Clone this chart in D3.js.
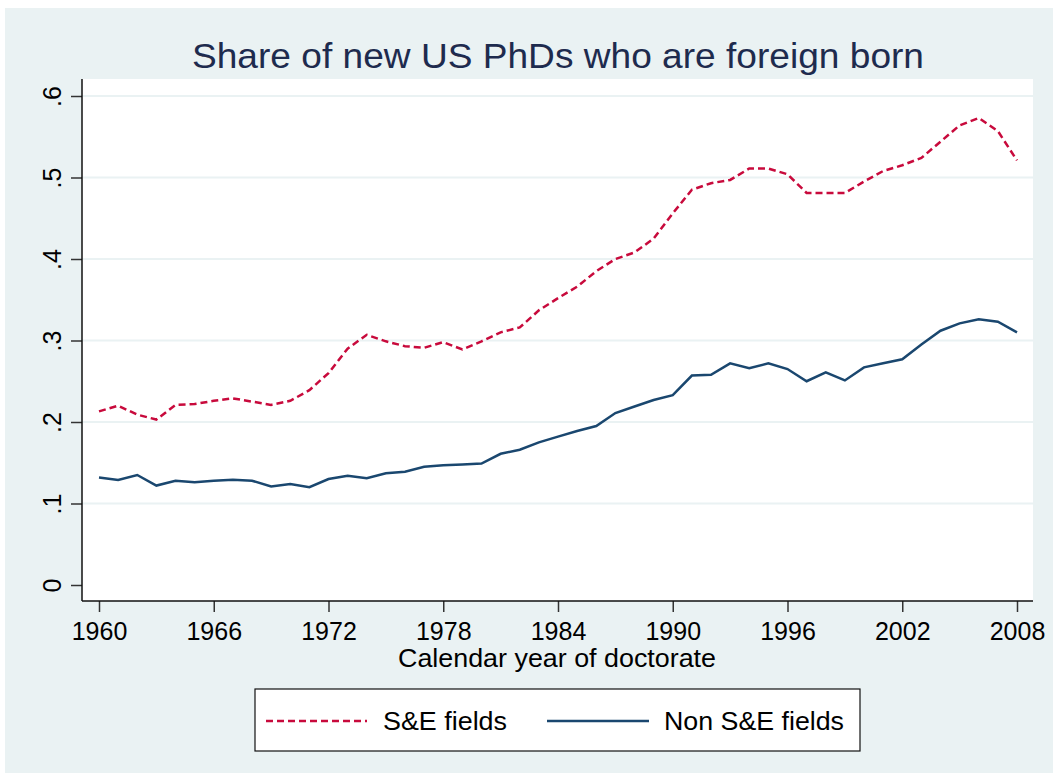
<!DOCTYPE html>
<html>
<head>
<meta charset="utf-8">
<script src="https://cdn.jsdelivr.net/npm/d3@7"></script>
<style>
  body { margin: 0; background: #fff; }
  text { font-family: "Liberation Sans", Arial, sans-serif; }
</style>
</head>
<body>
<script>
// years 1960..2008
var years = d3.range(1960, 2009);

var seFields = [
  0.213, 0.220, 0.209, 0.203, 0.221, 0.222, 0.226, 0.229, 0.225, 0.221,
  0.226, 0.239, 0.260, 0.290, 0.307, 0.299, 0.293, 0.291, 0.298, 0.289,
  0.299, 0.310, 0.316, 0.337, 0.352, 0.366, 0.385, 0.400, 0.408, 0.425,
  0.456, 0.485, 0.493, 0.497, 0.511, 0.511, 0.504, 0.481, 0.481, 0.481,
  0.495, 0.508, 0.515, 0.524, 0.544, 0.564, 0.573, 0.557, 0.521
];

var nonSeFields = [
  0.132, 0.129, 0.135, 0.122, 0.128, 0.126, 0.128, 0.129, 0.128, 0.121,
  0.124, 0.120, 0.130, 0.134, 0.131, 0.137, 0.139, 0.145, 0.147, 0.148,
  0.149, 0.161, 0.166, 0.175, 0.182, 0.189, 0.195, 0.211, 0.219, 0.227,
  0.233, 0.257, 0.258, 0.272, 0.266, 0.272, 0.265, 0.250, 0.261, 0.251,
  0.267, 0.272, 0.277, 0.295, 0.312, 0.321, 0.326, 0.323, 0.310
];

var xTicks = [1960, 1966, 1972, 1978, 1984, 1990, 1996, 2002, 2008];
var yTicks = [0, 0.1, 0.2, 0.3, 0.4, 0.5, 0.6];
var yTickLabels = ["0", ".1", ".2", ".3", ".4", ".5", ".6"];
var seriesNames = ["S&E fields", "Non S&E fields"];

var svg = d3.select("body").append("svg").attr("width", 1053).attr("height", 773);

// outer background
svg.append("rect").attr("x", 5).attr("y", 8).attr("width", 1048).attr("height", 765)
  .attr("fill", "#eaf2f3");

var plot = {left: 82, right: 1033, top: 79, bottom: 601};

svg.append("rect").attr("x", plot.left).attr("y", plot.top)
  .attr("width", plot.right - plot.left).attr("height", plot.bottom - plot.top)
  .attr("fill", "#fff");

var x = d3.scaleLinear().domain([1960, 2008]).range([99, 1017]);
var y = d3.scaleLinear().domain([0, 0.6]).range([585, 96]);

// gridlines
svg.append("g").selectAll("line")
  .data(yTicks.filter(function(d) { return d > 0; }))
  .enter().append("line")
    .attr("x1", plot.left).attr("x2", plot.right)
    .attr("y1", function(d) { return y(d); }).attr("y2", function(d) { return y(d); })
    .attr("stroke", "#eaf2f3").attr("stroke-width", 2);

// y axis
var yAxis = svg.append("g")
  .attr("transform", "translate(" + plot.left + ",0)")
  .call(d3.axisLeft(y).tickValues(yTicks).tickSize(11).tickPadding(10)
    .tickFormat(function(d, i) { return yTickLabels[i]; }));
yAxis.select(".domain").remove();
yAxis.selectAll(".tick line").attr("stroke", "#333").attr("stroke-width", 1.5);
yAxis.selectAll(".tick text")
  .attr("font-size", 25).attr("fill", "#000")
  .attr("font-family", "Liberation Sans, Arial, sans-serif")
  .attr("text-anchor", "middle")
  .attr("x", null).attr("dy", null)
  .attr("transform", "translate(-21,0) rotate(-90)");

svg.append("line").attr("x1", plot.left).attr("x2", plot.left)
  .attr("y1", plot.top).attr("y2", plot.bottom)
  .attr("stroke", "#111").attr("stroke-width", 1.5);

// x axis
var xAxis = svg.append("g")
  .attr("transform", "translate(0," + plot.bottom + ")")
  .call(d3.axisBottom(x).tickValues(xTicks).tickSize(11).tickPadding(10)
    .tickFormat(d3.format("d")));
xAxis.select(".domain").remove();
xAxis.selectAll(".tick line").attr("stroke", "#333").attr("stroke-width", 1.5);
xAxis.selectAll(".tick text")
  .attr("font-size", 25).attr("fill", "#000")
  .attr("font-family", "Liberation Sans, Arial, sans-serif");

svg.append("line").attr("x1", plot.left).attr("x2", plot.right)
  .attr("y1", plot.bottom).attr("y2", plot.bottom)
  .attr("stroke", "#111").attr("stroke-width", 1.5);

// lines
var line = d3.line()
  .x(function(d, i) { return x(years[i]); })
  .y(function(d) { return y(d); });

svg.append("path").datum(seFields)
  .attr("d", line).attr("fill", "none")
  .attr("stroke", "#c80a3c").attr("stroke-width", 2.5)
  .attr("stroke-dasharray", "7,4");

svg.append("path").datum(nonSeFields)
  .attr("d", line).attr("fill", "none")
  .attr("stroke", "#1a476f").attr("stroke-width", 2.5);

// title
svg.append("text")
  .attr("x", 558).attr("y", 68)
  .attr("text-anchor", "middle")
  .attr("font-size", 35).attr("fill", "#1e2b4e")
  .attr("textLength", 732).attr("lengthAdjust", "spacingAndGlyphs")
  .text("Share of new US PhDs who are foreign born");

// x axis title
svg.append("text")
  .attr("x", 557).attr("y", 667)
  .attr("text-anchor", "middle")
  .attr("font-size", 25).attr("fill", "#000")
  .attr("textLength", 318).attr("lengthAdjust", "spacingAndGlyphs")
  .text("Calendar year of doctorate");

// legend
var legend = svg.append("g");
legend.append("rect").attr("x", 255).attr("y", 689)
  .attr("width", 605).attr("height", 62)
  .attr("fill", "#fff").attr("stroke", "#111").attr("stroke-width", 1.2);

legend.append("line").attr("x1", 266).attr("x2", 367).attr("y1", 721).attr("y2", 721)
  .attr("stroke", "#c80a3c").attr("stroke-width", 2.5).attr("stroke-dasharray", "7,4");
legend.append("text").attr("x", 383).attr("y", 730)
  .attr("font-size", 25).attr("fill", "#000")
  .attr("textLength", 124).attr("lengthAdjust", "spacingAndGlyphs")
  .text(seriesNames[0]);

legend.append("line").attr("x1", 547).attr("x2", 649).attr("y1", 721).attr("y2", 721)
  .attr("stroke", "#1a476f").attr("stroke-width", 2.5);
legend.append("text").attr("x", 664).attr("y", 730)
  .attr("font-size", 25).attr("fill", "#000")
  .attr("textLength", 180).attr("lengthAdjust", "spacingAndGlyphs")
  .text(seriesNames[1]);
</script>
</body>
</html>
